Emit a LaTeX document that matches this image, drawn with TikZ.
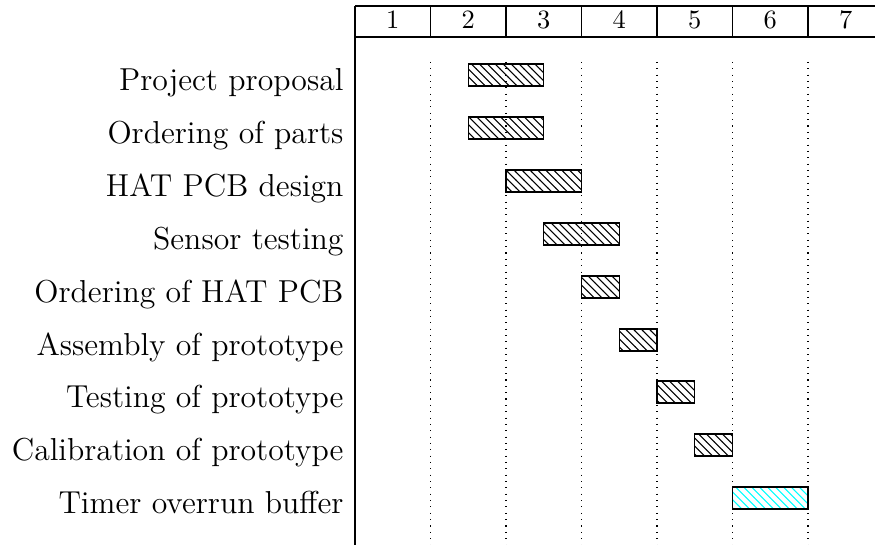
\documentclass[tikz,border=0pt]{standalone}
\usetikzlibrary{patterns}
\begin{document}
\begin{tikzpicture}[x=0.378pt,y=-0.378pt,
  lbl/.style={anchor=base east,inner sep=0pt,font=\fontsize{12}{14}\selectfont},
  hdr/.style={anchor=base,inner sep=0pt,font=\fontsize{10}{12}\selectfont},
  gridline/.style={line width=0.4pt,dotted},
  frameline/.style={line width=0.4pt},
  bar/.style={draw,line width=0.5pt,pattern=north west lines},
  bufbar/.style={draw,line width=0.5pt,pattern=north west lines,pattern color=cyan}]
\useasboundingbox (0,0) rectangle (875,545);
% header
\draw[frameline] (355,6) -- (875,6);
\draw[frameline] (355,37) -- (875,37);
\draw[line width=0.5pt] (355,6) -- (355,545);
\foreach \i in {1,...,6} {
  \draw[frameline] (355+75.5*\i,6) -- (355+75.5*\i,37);
  \draw[gridline] (355+75.5*\i,62) -- (355+75.5*\i,545);
}
\foreach \i in {1,...,7} {
  \node[hdr] (h\i) at (355+75.5*\i-37.75,29) {\i};
}
% labels
\node[lbl] (l1) at (344,91) {Project proposal};
\node[lbl] (l2) at (344,144) {Ordering of parts};
\node[lbl] (l3) at (344,197) {HAT PCB design};
\node[lbl] (l4) at (344,250) {Sensor testing};
\node[lbl] (l5) at (344,303) {Ordering of HAT PCB};
\node[lbl] (l6) at (344,356) {Assembly of prototype};
\node[lbl] (l7) at (344,408) {Testing of prototype};
\node[lbl] (l8) at (344,461) {Calibration of prototype};
\node[lbl] (l9) at (344,514) {Timer overrun buffer};
% bars
\path[bar] (468.25,64) rectangle (543.75,86);
\path[bar] (468.25,117) rectangle (543.75,139);
\path[bar] (506,170) rectangle (581.5,192);
\path[bar] (543.75,223) rectangle (619.25,245);
\path[bar] (581.5,276) rectangle (619.25,298);
\path[bar] (619.25,329) rectangle (657,351);
\path[bar] (657,381) rectangle (694.75,403);
\path[bar] (694.75,434) rectangle (732.5,456);
\path[bufbar] (732.5,487) rectangle (808,509);
\end{tikzpicture}
\end{document}
